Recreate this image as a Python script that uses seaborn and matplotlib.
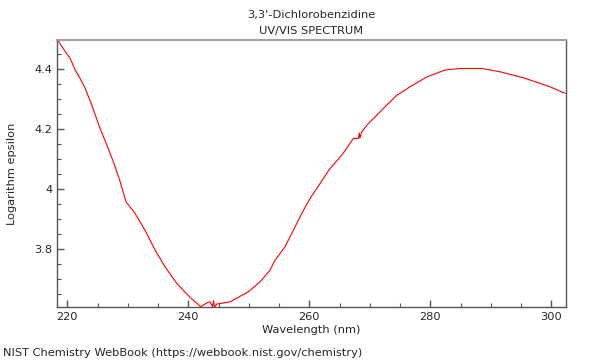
import matplotlib
matplotlib.use("Agg")
import matplotlib.pyplot as plt
import seaborn as sns
import pandas as pd
from matplotlib.ticker import MultipleLocator, FormatStrFormatter

# spectrum
wavelength = [218.4, 219.62, 220.45, 221.27, 222.10, 222.93, 224.03, 225.40, 226.51,
              227.60, 228.71, 229.70, 231.19, 232.84, 234.50, 236.15, 238.08, 240.28,
              242.05, 243.26, 243.6, 244.0, 244.17, 244.33, 244.7, 246.89, 249.92,
              251.85, 253.50, 254.33, 255.98, 257.36, 258.74, 260.12, 261.77, 263.42,
              265.36, 267.27, 268.10, 268.26, 268.35, 268.66, 269.75, 270.03, 272.23,
              274.45, 276.65, 279.41, 282.43, 284.91, 288.50, 291.52, 295.37, 299.79,
              302.26]
log_eps = [4.498, 4.459, 4.437, 4.398, 4.370, 4.337, 4.281, 4.203, 4.148,
           4.092, 4.026, 3.958, 3.919, 3.863, 3.797, 3.741, 3.686, 3.639,
           3.608, 3.623, 3.624, 3.608, 3.628, 3.607, 3.617, 3.624, 3.658,
           3.691, 3.730, 3.763, 3.808, 3.863, 3.919, 3.969, 4.019, 4.069,
           4.113, 4.169, 4.169, 4.187, 4.170, 4.191, 4.219, 4.224, 4.269,
           4.313, 4.341, 4.374, 4.397, 4.402, 4.402, 4.391, 4.371, 4.341,
           4.319]

df = pd.DataFrame({"wl": wavelength, "le": log_eps})

sns.set_style("ticks")
plt.rcParams["font.family"] = ["DejaVu Sans"]
fs = 8.2

fig = plt.figure(figsize=(6, 3.6), dpi=100)
ax = fig.add_axes([57 / 600, 1 - 307 / 360, (566 - 57) / 600, (307 - 40) / 360])

sns.lineplot(data=df, x="wl", y="le", ax=ax, sort=False, estimator=None,
             color="red", linewidth=0.8)

ax.set_xlim(218.3, 302.4)
ax.set_ylim(3.607, 4.497)
ax.xaxis.set_major_locator(MultipleLocator(20))
ax.xaxis.set_minor_locator(MultipleLocator(5))
ax.yaxis.set_major_locator(MultipleLocator(0.2))
ax.yaxis.set_minor_locator(MultipleLocator(0.05))
ax.yaxis.set_major_formatter(FormatStrFormatter("%g"))
ax.tick_params(which="major", direction="in", length=5, width=1, color="#555555", labelsize=fs)
ax.tick_params(which="minor", direction="in", length=3, width=0.8, color="#555555")

for s in ["left", "bottom", "right"]:
    ax.spines[s].set_color("#555555")
    ax.spines[s].set_linewidth(1)
ax.spines["top"].set_color("#a0a0a0")
ax.spines["top"].set_linewidth(1.5)

ax.set_xlabel("Wavelength (nm)", fontsize=fs, labelpad=2)
ax.set_ylabel("Logarithm epsilon", fontsize=fs)
ax.yaxis.set_label_coords(-40 / 509, 0.5)
ax.set_title("3,3'-Dichlorobenzidine\nUV/VIS SPECTRUM", fontsize=fs, pad=4, linespacing=1.8)

fig.text(3 / 600, 1 - 353 / 360, "NIST Chemistry WebBook (https://webbook.nist.gov/chemistry)",
         fontsize=fs, va="center", ha="left")

fig.savefig("out.png", dpi=100)
